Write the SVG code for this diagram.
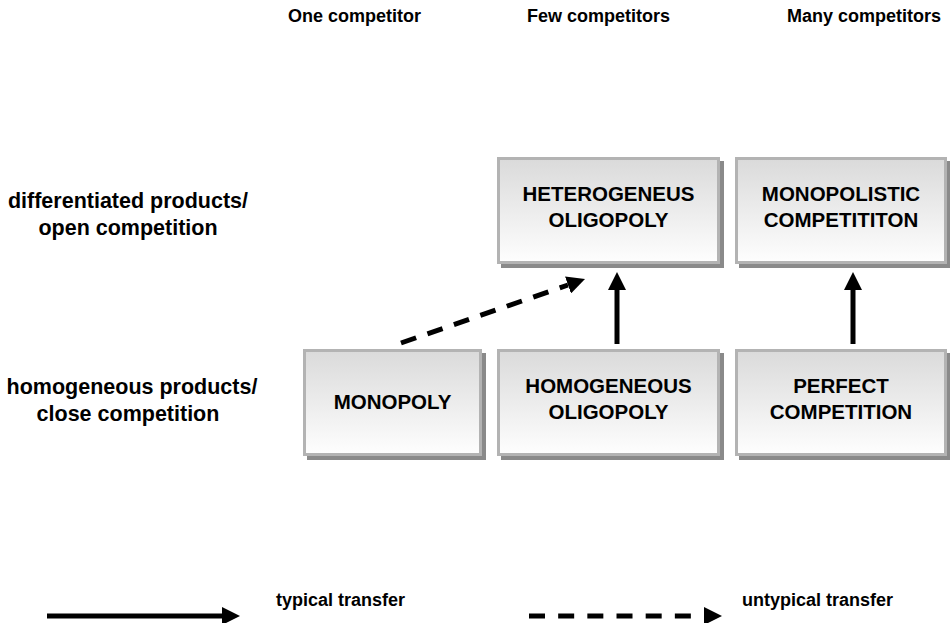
<svg xmlns="http://www.w3.org/2000/svg" width="950" height="623" viewBox="0 0 950 623">
  <style>
    text { font-family: "Liberation Sans", Arial, sans-serif; font-weight: bold; fill: #000; }
    .hdr { font-size: 18px; }
    .row { font-size: 21.5px; text-anchor: middle; }
    .box { font-size: 20.5px; text-anchor: middle; }
    .leg { font-size: 18px; }
    .shadow { fill: #8a8a8a; }
    .face { fill: url(#faceGrad); stroke: #b3b3b3; stroke-width: 3; }
    .solid { stroke: #000; stroke-width: 5; fill: none; }
    .dashed { stroke: #000; stroke-width: 5; fill: none; stroke-dasharray: 16 12; }
  </style>
  <defs>
    <linearGradient id="faceGrad" x1="0" y1="0" x2="0" y2="1">
      <stop offset="0" stop-color="#dadada"/>
      <stop offset="1" stop-color="#fefefe"/>
    </linearGradient>
    <marker id="head" markerUnits="userSpaceOnUse" markerWidth="18" markerHeight="18" refX="0" refY="9" orient="auto">
      <path d="M0,0 L18,9 L0,18 z" fill="#000"/>
    </marker>
  </defs>

  <rect width="950" height="623" fill="#fff"/>

  <!-- column headers -->
  <g id="headers">
    <text class="hdr" x="288" y="22">One competitor</text>
    <text class="hdr" x="527" y="22">Few competitors</text>
    <text class="hdr" x="787" y="22">Many competitors</text>
  </g>

  <!-- row labels -->
  <g id="rows">
    <text class="row" x="128" y="208">differentiated products/</text>
    <text class="row" x="128" y="235">open competition</text>
    <text class="row" x="132" y="394">homogeneous products/</text>
    <text class="row" x="128" y="421">close competition</text>
  </g>

  <!-- market form boxes -->
  <g id="heterogeneus-oligopoly">
    <rect class="shadow" x="501" y="161" width="223" height="107"/>
    <rect class="face" x="498.5" y="158.5" width="220" height="104"/>
    <text class="box" x="608.5" y="201">HETEROGENEUS</text>
    <text class="box" x="608.5" y="227">OLIGOPOLY</text>
  </g>
  <g id="monopolistic-competition">
    <rect class="shadow" x="739" y="161" width="212" height="107"/>
    <rect class="face" x="736.5" y="158.5" width="209" height="104"/>
    <text class="box" x="841" y="201">MONOPOLISTIC</text>
    <text class="box" x="841" y="227">COMPETITITON</text>
  </g>
  <g id="monopoly">
    <rect class="shadow" x="307" y="353" width="179" height="107"/>
    <rect class="face" x="304.5" y="350.5" width="176" height="104"/>
    <text class="box" x="392.5" y="409">MONOPOLY</text>
  </g>
  <g id="homogeneous-oligopoly">
    <rect class="shadow" x="501" y="353" width="223" height="107"/>
    <rect class="face" x="498.5" y="350.5" width="220" height="104"/>
    <text class="box" x="608.5" y="393">HOMOGENEOUS</text>
    <text class="box" x="608.5" y="419">OLIGOPOLY</text>
  </g>
  <g id="perfect-competition">
    <rect class="shadow" x="739" y="353" width="212" height="107"/>
    <rect class="face" x="736.5" y="350.5" width="209" height="104"/>
    <text class="box" x="841" y="393">PERFECT</text>
    <text class="box" x="841" y="419">COMPETITION</text>
  </g>

  <!-- transfers between market forms -->
  <g id="connectors">
    <line class="dashed" x1="401" y1="343" x2="568" y2="285" marker-end="url(#head)"/>
    <line class="solid" x1="617" y1="344" x2="617" y2="290" marker-end="url(#head)"/>
    <line class="solid" x1="853" y1="344" x2="853" y2="290" marker-end="url(#head)"/>
  </g>

  <!-- legend -->
  <g id="legend">
    <line class="solid" x1="47" y1="616" x2="222" y2="616" marker-end="url(#head)"/>
    <text class="leg" x="276" y="606">typical transfer</text>
    <line class="dashed" x1="529" y1="616" x2="704" y2="616" style="stroke-dasharray: 16 13.17" marker-end="url(#head)"/>
    <text class="leg" x="742" y="606">untypical transfer</text>
  </g>
</svg>
